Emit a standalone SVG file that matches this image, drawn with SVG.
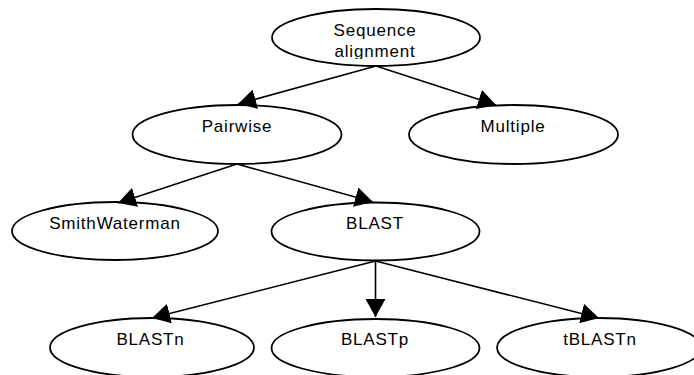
<svg xmlns="http://www.w3.org/2000/svg" width="694" height="375" viewBox="0 0 694 375">
  <style>
    .node ellipse { fill: #ffffff; stroke: #000000; stroke-width: 1.8; }
    .node text { font-family: "Liberation Sans", Arial, sans-serif; font-size: 17px; letter-spacing: 0.8px; fill: #000000; text-anchor: middle; }
    .edges path { fill: none; stroke: #000000; stroke-width: 1.6; marker-end: url(#arrow); }
  </style>
  <defs>
    <marker id="arrow" markerUnits="userSpaceOnUse" viewBox="0 0 18 20" refX="18" refY="10" markerWidth="18" markerHeight="20" orient="auto">
      <path d="M0,0 L18,10 L0,20 Z" fill="#000000"/>
    </marker>
    <clipPath id="seqclip">
      <rect x="260" y="0" width="240" height="59"/>
    </clipPath>
  </defs>
  <rect x="0" y="0" width="694" height="375" fill="#ffffff"/>

  <g id="seq" class="node">
    <ellipse cx="376" cy="37.5" rx="104" ry="28.5"/>
    <g clip-path="url(#seqclip)">
      <text x="375" y="36">Sequence</text>
      <text x="375" y="57.3">alignment</text>
    </g>
  </g>
  <g id="pairwise" class="node">
    <ellipse cx="237" cy="134.5" rx="104.5" ry="29.5"/>
    <text x="237" y="132">Pairwise</text>
  </g>
  <g id="multiple" class="node">
    <ellipse cx="513.5" cy="134.5" rx="104.5" ry="29.5"/>
    <text x="513" y="132">Multiple</text>
  </g>
  <g id="smithwaterman" class="node">
    <ellipse cx="115" cy="231" rx="103" ry="29"/>
    <text x="115" y="228.5">SmithWaterman</text>
  </g>
  <g id="blast" class="node">
    <ellipse cx="375.5" cy="231.5" rx="104" ry="29"/>
    <text x="375" y="229">BLAST</text>
  </g>
  <g id="blastn" class="node">
    <ellipse cx="152" cy="347.5" rx="102" ry="29.5"/>
    <text x="150.5" y="345">BLASTn</text>
  </g>
  <g id="blastp" class="node">
    <ellipse cx="375.5" cy="348" rx="104" ry="29"/>
    <text x="375" y="344.5">BLASTp</text>
  </g>
  <g id="tblastn" class="node">
    <ellipse cx="599" cy="347.5" rx="102" ry="29.5"/>
    <text x="600" y="344.5">tBLASTn</text>
  </g>

  <g id="connectors" class="edges">
    <path d="M376,66 L238,104"/>
    <path d="M376,66 L496,105"/>
    <path d="M237,164 L118,203"/>
    <path d="M237,164 L373,202"/>
    <path d="M375.5,261 L152,318"/>
    <path d="M375.5,261 L375.5,317"/>
    <path d="M375.5,261 L599,318"/>
  </g>
</svg>
